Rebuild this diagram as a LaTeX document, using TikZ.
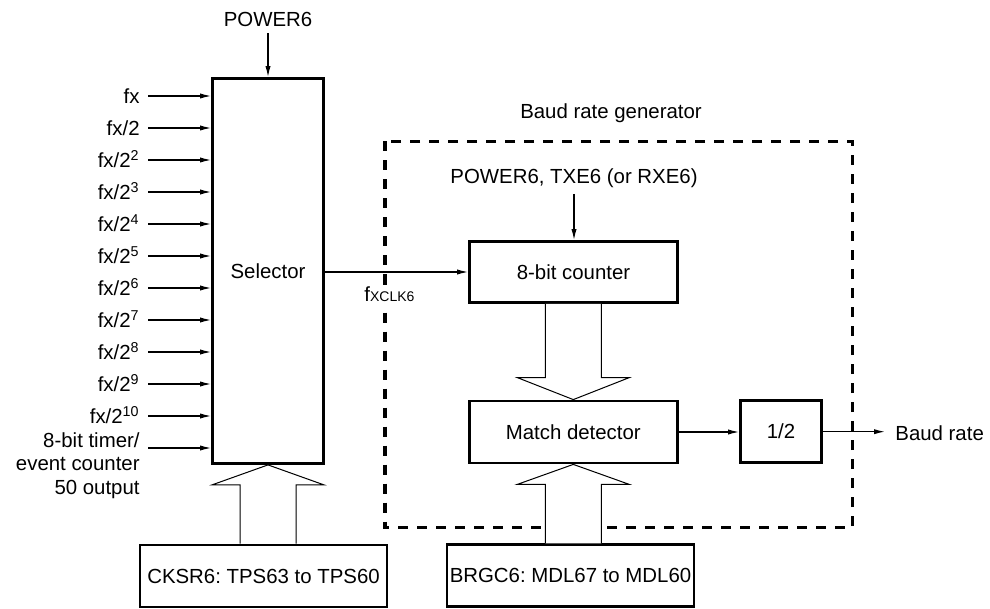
\documentclass[tikz,border=0pt]{standalone}
\usepackage{fontspec}
\setmainfont{Liberation Sans}
\usetikzlibrary{arrows.meta,calc}
\frenchspacing

% flecha hueca (bus): punta, base, largo de la cabeza
\newcommand{\busarrow}[3]{%
  \filldraw[bus] ($(#2)+(-28,0)$) -- ($(#1)+(-28,#3)$) -- ($(#1)+(-56,#3)$) -- (#1)
    -- ($(#1)+(56,#3)$) -- ($(#1)+(28,#3)$) -- ($(#2)+(28,0)$);}

\begin{document}
\begin{tikzpicture}[x=0.5pt, y=-0.5pt,
    font=\fontsize{10.2}{11.8}\selectfont,
    caja/.style={draw, line width=1.4pt, inner sep=0pt},
    flecha/.style={-{Latex[length=5.5pt,width=2.6pt]}, line width=0.6pt},
    bus/.style={line width=0.5pt, fill=white},
    txt/.style={inner sep=3pt}]
    \useasboundingbox (0,0) rectangle (990,609);
    % Bloques
    \node[caja, minimum width=55.5pt, minimum height=192.5pt] (sel) at (268,271) {Selector};
    \node[caja, minimum width=104pt, minimum height=30.5pt] (cnt) at (573.5,272) {8-bit counter};
    \node[caja, minimum width=104pt, minimum height=31pt] (match) at (573.3,432) {Match detector};
    \node[caja, minimum width=40.5pt, minimum height=31pt] (half) at (781,431.7) {1/2};
    \node[caja, minimum width=123.5pt, minimum height=31pt] (cksr) at (263.5,576) {CKSR6: TPS63 to TPS60};
    \node[caja, minimum width=123.5pt, minimum height=31pt] (brgc) at (570.5,575.8) {BRGC6: MDL67 to MDL60};
    % Generador de baudios
    \draw[line width=1.6pt, dash pattern=on 5pt off 4.5pt] (385,141.5) rectangle (852.5,527.5);
    \node[txt, anchor=base] (brg) at (611,119) {Baud rate generator};
    % Entradas del selector
    \foreach \i in {0,...,10} {
        \coordinate (in\i) at (148,96+32*\i);
        \node[txt, anchor=base east] (lbl\i) at ($(in\i)+(-2,7.5)$)
            {\ifcase\i\relax fx\or fx/2\else fx/2\textsuperscript{\i}\fi};
        \draw[flecha] (in\i) -- (in\i -| sel.west);
    }
    \coordinate (in11) at (148,448);
    \node[txt, anchor=base east, align=right] (tmr) at ($(in11)+(-2,46.5)$)
        {8-bit timer/\\event counter\\50 output};
    \draw[flecha] (in11) -- (in11 -| sel.west);
    % Alimentacion
    \node[txt, anchor=base] (pwr) at (268,26.7) {POWER6};
    \draw[flecha] (pwr.south) -- (sel.north);
    \node[txt, anchor=base] (pwrtx) at (574,183.3) {POWER6, TXE6 (or RXE6)};
    \draw[flecha] (pwrtx.south) -- (pwrtx.south |- cnt.north);
    % Reloj y salida
    \draw[flecha] (sel.east |- cnt.west) -- (cnt.west);
    \node[inner sep=1pt, fill=white, anchor=base] (fclk) at (389.5,301.7) {f{\fontsize{7}{8}\selectfont XCLK6}};
    \draw[flecha] (match.east) -- (match.east -| half.west);
    \node[txt, anchor=base west] (rate) at (889,440) {Baud rate};
    \draw[flecha, shorten >=2pt] (half.east) -- (half.east -| rate.west);
    % Buses
    \busarrow{sel.south}{sel.south |- cksr.north}{20}
    \busarrow{match.north}{match.north |- cnt.south}{-22}
    \busarrow{match.south}{match.south |- brgc.north}{20}
\end{tikzpicture}
\end{document}
